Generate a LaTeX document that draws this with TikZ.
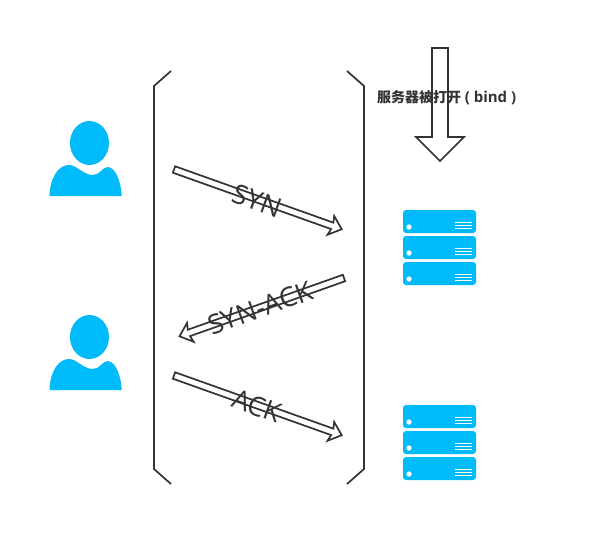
\documentclass[tikz,border=0pt]{standalone}
\usepackage{fontspec}
\setmainfont{Open Sans}
\newfontfamily\cjk{Noto Sans CJK SC}
\usetikzlibrary{positioning,calc}
\definecolor{iconblue}{HTML}{00BBF9}
\definecolor{inkdark}{HTML}{333333}
\tikzset{
  bracketline/.style={draw=inkdark, line width=1.7pt},
  hollowarrow/.style={draw=inkdark, fill=white, line width=1.7pt, line join=miter},
  msglabel/.style={inner sep=0pt, text=inkdark, font=\fontsize{27}{27}\selectfont},
  iconfill/.style={fill=iconblue, draw=none},
  rackline/.style={draw=white, line width=0.9pt},
}
\begin{document}
\begin{tikzpicture}[x=1pt, y=-1pt]
  \useasboundingbox (0,0) rectangle (591,547);
  % brackets
  \draw[bracketline] (171,71) -- (154,86) -- (154,469) -- (171,484);
  \draw[bracketline] (347,71) -- (364,86) -- (364,469) -- (347,484);
  % clients
  \foreach \dy [count=\i] in {0,194} {
    \begin{scope}[yshift=-\dy pt]
      \fill[iconfill] (89.5,143) ellipse [x radius=19.5, y radius=22];
      \fill[iconfill] (49.5,196) .. controls (50,178) and (58,165) .. (69,165)
        .. controls (77,165) and (83,175) .. (93,175)
        .. controls (100,175) and (102,167) .. (108,167)
        .. controls (116,168) and (121,182) .. (121.7,196) -- cycle;
    \end{scope}
  }
  % servers
  \foreach \dy in {0,195} {
    \foreach \top in {210,236,262} {
      \begin{scope}[yshift=-\dy pt]
        \fill[iconfill, rounded corners=3pt] (403,\top) rectangle (476,\top+23);
        \fill[white] (409,\top+17) circle (2.7);
        \foreach \off in {12,15,18}
          \draw[rackline] (455,\top+\off) -- (472,\top+\off);
      \end{scope}
    }
  }
  % messages
  \coordinate (synTail) at (174,169.5);
  \coordinate (synackTail) at (344,278);
  \coordinate (ackTail) at (174,375.5);
  \foreach \nm/\ang/\len in {syn/-19.6/178, synack/199.5/174.5, ack/-19.6/178} {
    \begin{scope}[shift={(\nm Tail)}, rotate=\ang]
      \draw[hollowarrow] (0,-3.4) -- (\len-10,-3.4) -- (\len-11.5,-10) -- (\len,0)
        -- (\len-11.5,10) -- (\len-10,3.4) -- (0,3.4) -- cycle;
    \end{scope}
  }
  \node[msglabel, rotate=-20] (synLabel) at (257,201) {SYN};
  \node[msglabel, rotate=20] (synackLabel) at (260,308) {SYN-ACK};
  \node[msglabel, rotate=-20] (ackLabel) at (257,406) {ACK};
  % bind
  \draw[hollowarrow] (432,48) -- (448,48) -- (448,137) -- (464,137) -- (440,161)
    -- (416,137) -- (432,137) -- cycle;
  \node[inner sep=0pt, anchor=west, text=inkdark, font=\fontsize{14}{14}\selectfont\bfseries] (bindLabel) at (377,97.5) {{\cjk 服务器被打开} {\fontsize{15}{15}\selectfont ( bind )}};
\end{tikzpicture}
\end{document}
